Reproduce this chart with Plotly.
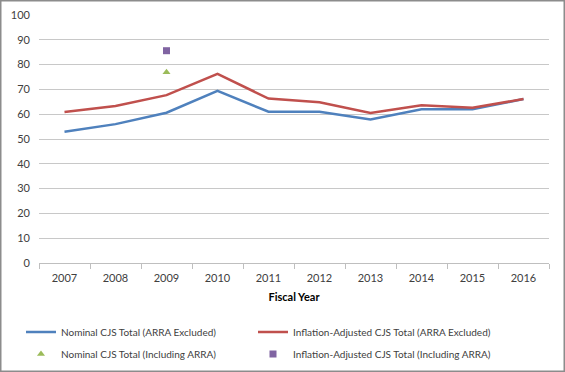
import plotly.graph_objects as go

years = ["2007", "2008", "2009", "2010", "2011", "2012", "2013", "2014", "2015", "2016"]
nominal = [52.9, 56.0, 60.6, 69.4, 61.0, 61.0, 57.9, 62.0, 62.0, 66.1]
inflation_adj = [60.9, 63.3, 67.7, 76.3, 66.3, 64.8, 60.5, 63.6, 62.6, 66.1]
arra_year = ["2009"]
nominal_arra = [76.9]
inflation_arra = [85.6]

font_family = "Lato, 'Open Sans', sans-serif"

fig = go.Figure()
fig.add_trace(go.Scatter(x=years, y=nominal, mode="lines", name="Nominal CJS Total (ARRA Excluded)",
                         line=dict(color="#4F81BD", width=2.5), legend="legend"))
fig.add_trace(go.Scatter(x=years, y=inflation_adj, mode="lines", name="Inflation-Adjusted CJS Total (ARRA Excluded)",
                         line=dict(color="#C0504D", width=2.5), legend="legend2"))
fig.add_trace(go.Scatter(x=arra_year, y=nominal_arra, mode="markers", name="Nominal CJS Total (Including ARRA)",
                         marker=dict(color="#9BBB59", symbol="triangle-up", size=7), legend="legend3"))
fig.add_trace(go.Scatter(x=arra_year, y=inflation_arra, mode="markers", name="Inflation-Adjusted CJS Total (Including ARRA)",
                         marker=dict(color="#8064A2", symbol="square", size=7), legend="legend4"))

L, R, T, B = 39, 16, 15, 109
W, H = 565, 372
pw, ph = W - L - R, H - T - B

def py(pix):
    return (H - B - pix) / ph

def px(pix):
    return (pix - L) / pw

def cx(pix):
    return pix / W

def cy(pix):
    return 1 - pix / H

def leg(xpix, ypix):
    return dict(orientation="h", xanchor="left", yanchor="middle",
                xref="container", yref="container",
                x=cx(xpix), y=cy(ypix),
                font=dict(size=10, color="#404040"), itemwidth=30,
                bgcolor="rgba(0,0,0,0)")

fig.update_layout(
    width=W, height=H,
    margin=dict(l=L, r=R, t=T, b=B, autoexpand=False),
    paper_bgcolor="white", plot_bgcolor="white",
    font=dict(family=font_family, size=11, color="#404040"),
    showlegend=True,
    legend=leg(21, 332),
    legend2=leg(253, 332),
    legend3=leg(21, 354),
    legend4=leg(253, 354),
    xaxis=dict(type="category", range=[-0.5, 9.5], showgrid=False, showline=True,
               linecolor="#BFBFBF", linewidth=1, ticks="outside", tickson="boundaries",
               ticklen=5, tickcolor="#BFBFBF", ticklabelstandoff=5, automargin=False,
               title=dict(text="<b>Fiscal Year</b>", font=dict(size=11, color="#000000"), standoff=10)),
    yaxis=dict(range=[0, 100], dtick=10, showgrid=True, gridcolor="#C8C8C8", gridwidth=1,
               zeroline=False, showline=False, ticks="", ticklabelstandoff=8, automargin=False),
)

# outer frame around the whole image
fig.add_shape(type="rect", xref="paper", yref="paper",
              x0=px(0.75), x1=px(W - 0.75),
              y0=py(H - 0.75), y1=py(0.75),
              line=dict(color="#8C8C8C", width=1.5), fillcolor="rgba(0,0,0,0)", layer="above")

fig.write_html("out.html", config={"displayModeBar": False},
               post_script="document.body.style.margin='0';document.body.style.overflow='hidden';")
